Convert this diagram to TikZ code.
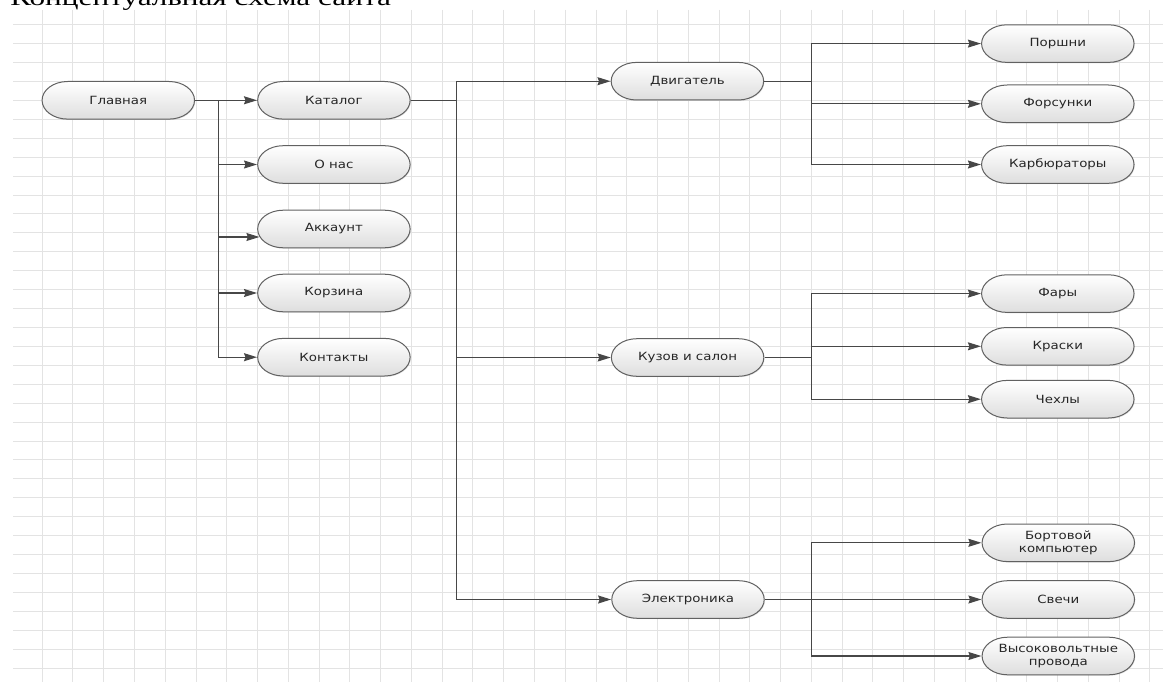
\documentclass[tikz,border=0pt]{standalone}
\usepackage{fontspec}
\usepackage{tikz}
\usetikzlibrary{arrows.meta, shapes.misc, shadows}
\newfontfamily\nodefont[FakeStretch=0.87]{DejaVu Sans}
\newfontfamily\titlefont{Liberation Serif}
\tikzset{
  gridline/.style={draw=black!11, line width=1.5pt},
  pagebox/.style={rounded rectangle, draw=black!62, line width=1pt,
    minimum width=80.1pt, minimum height=37.6pt, inner xsep=-16pt, inner ysep=2pt,
    xscale=1.36, transform shape, top color=white, bottom color=black!13,
    drop shadow={shadow xshift=0.8pt, shadow yshift=-0.9pt, opacity=0.2},
    font=\nodefont\fontsize{11.3}{13.8}\selectfont, text=black!85, align=center},
  link/.style={draw=black!72, line width=1.1pt},
  arrow/.style={link, -{Stealth[length=13pt, width=8pt, inset=1.5pt]}},
}

\begin{document}
\begin{tikzpicture}[x=1pt, y=-1pt]
\useasboundingbox (0,0) rectangle (1163,682);
\clip (0,0) rectangle (1163,682);
\fill[white] (0,0) rectangle (1163,682);
% grid
\foreach \k in {0,...,36} {
  \pgfmathsetmacro{\gx}{round(41.7+30.77*\k)+0.5}
  \draw[gridline] (\gx,10) -- (\gx,682);
}
\foreach \j in {0,...,34} {
  \pgfmathsetmacro{\gy}{round(24.3+18.92*\j)+0.5}
  \draw[gridline] (13,\gy) -- (1163,\gy);
}
\node[font=\titlefont\fontsize{23}{23}\selectfont, anchor=base west, inner sep=0,
  xscale=1.36, transform shape] (title) at (10,6) {Концептуальная схема сайта};

% pages
\node[pagebox] (glav) at (118.3,100.3) {Главная};
\node[pagebox] (katalog) at (333.9,100.3) {Каталог};
\node[pagebox] (onas) at (333.9,164.5) {О нас};
\node[pagebox] (akk) at (333.9,229) {Аккаунт};
\node[pagebox] (korz) at (333.9,293) {Корзина};
\node[pagebox] (kont) at (333.9,357.2) {Контакты};

\node[pagebox] (dvig) at (687.4,81.2) {Двигатель};
\node[pagebox] (kuzov) at (687.6,357.5) {Кузов и салон};
\node[pagebox] (elektr) at (688,599.5) {Электроника};

\node[pagebox] (porsh) at (1057.8,43.6) {Поршни};
\node[pagebox] (fors) at (1057.8,103.8) {Форсунки};
\node[pagebox] (karb) at (1057.8,164.5) {Карбюраторы};
\node[pagebox] (fary) at (1057.8,293.6) {Фары};
\node[pagebox] (kraski) at (1057.8,346.3) {Краски};
\node[pagebox] (chehly) at (1057.8,399.2) {Чехлы};
\node[pagebox] (bort) at (1058.3,542.8) {Бортовой\\компьютер};
\node[pagebox] (svechi) at (1058.3,599.5) {Свечи};
\node[pagebox] (vysok) at (1058.3,656) {Высоковольтные\\провода};

% links
\coordinate (jmain) at (218.3,100.3);
\coordinate (jcat) at (456.8,100.3);
\coordinate (jdvig) at (811.5,81.2);
\coordinate (jkuzov) at (811.5,357.5);
\coordinate (jelektr) at (811.5,599.5);

\draw[arrow] (glav.east) -- (katalog.west);
\foreach \n in {onas,korz,kont} \draw[arrow] (jmain) |- (\n.west);
\draw[arrow] (jmain) |- ([xshift=2.4pt,yshift=-8pt]akk.west);

\draw[link] (katalog.east) -- (jcat);
\foreach \n in {dvig,kuzov,elektr} \draw[arrow] (jcat) |- (\n.west);

\draw[link] (dvig.east) -- (jdvig);
\foreach \n in {porsh,fors,karb} \draw[arrow] (jdvig) |- (\n.west);
\draw[link] (kuzov.east) -- (jkuzov);
\foreach \n in {fary,kraski,chehly} \draw[arrow] (jkuzov) |- (\n.west);
\draw[link] (elektr.east) -- (jelektr);
\foreach \n in {bort,svechi,vysok} \draw[arrow] (jelektr) |- (\n.west);
\end{tikzpicture}
\end{document}
